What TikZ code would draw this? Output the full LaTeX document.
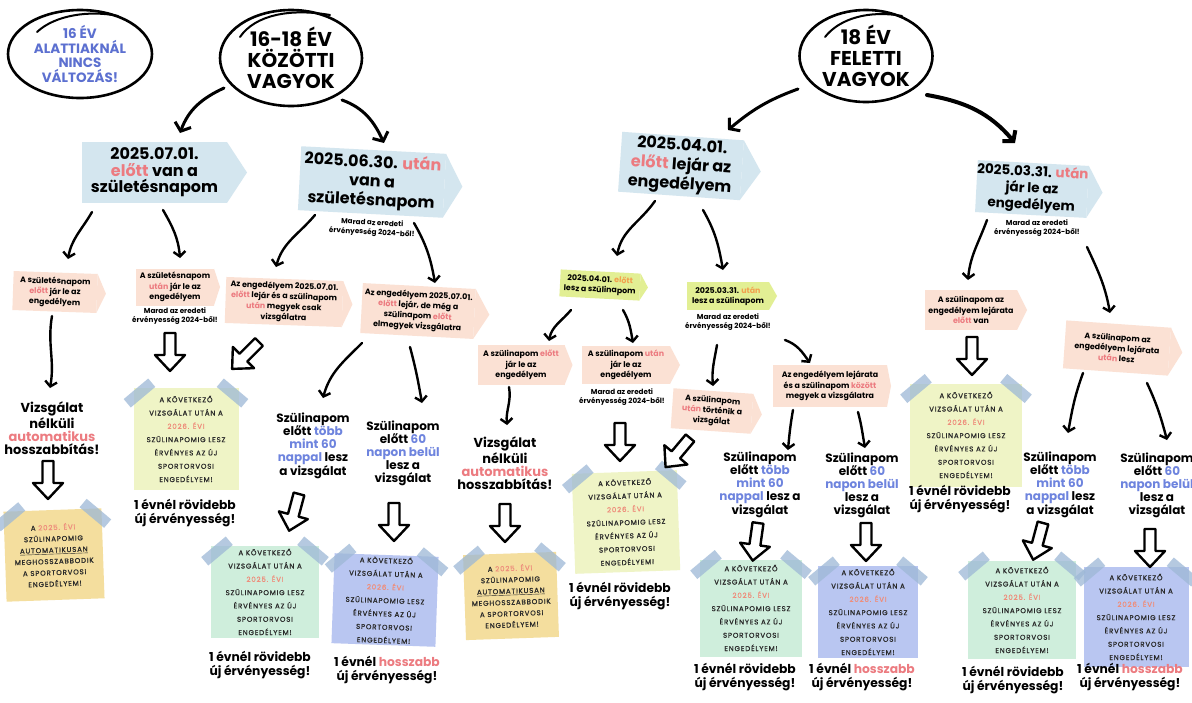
\documentclass[tikz,border=0pt]{standalone}
\usepackage{fontspec}
\setmainfont{Poppins}
\newfontfamily\stk[LetterSpace=12,FakeBold=1.2]{Poppins}
\usetikzlibrary{shapes.geometric,arrows.meta,calc}
\definecolor{boxblue}{HTML}{D4E6EF}
\definecolor{peach}{HTML}{FBE1D4}
\definecolor{lime}{HTML}{E2EF94}
\definecolor{stickyyg}{HTML}{EFF4C6}
\definecolor{stickyy}{HTML}{F4DE9E}
\definecolor{stickyg}{HTML}{CFEEDC}
\definecolor{stickyb}{HTML}{B9C6F1}
\definecolor{tapec}{HTML}{9DB8D6}
\definecolor{txtred}{HTML}{EC7B80}
\definecolor{txtblue}{HTML}{6E84DE}
\definecolor{txtorange}{HTML}{F2A14E}
\definecolor{txtyear}{HTML}{EE8E7C}
\definecolor{eblue}{HTML}{5C70D0}
\definecolor{stxt}{HTML}{2A2A2A}
\newcommand\hlr[1]{\textcolor{txtred}{#1}}
\newcommand\hlb[1]{\textcolor{txtblue}{#1}}
\newcommand\hlo[1]{\textcolor{txtorange}{#1}}
\newcommand\hly[1]{\textcolor{txtyear}{#1}}
\newcommand\kovtext[1]{A KÖVETKEZŐ\\VIZSGÁLAT UTÁN A\\\hly{#1. ÉVI}\\SZÜLINAPOMIG LESZ\\ÉRVÉNYES AZ ÚJ\\SPORTORVOSI\\ENGEDÉLYEM!}
\newcommand\autotext{A \hly{2025. ÉVI}\\SZÜLINAPOMIG\\\underline{AUTOMATIKUSAN}\\MEGHOSSZABBODIK\\A SPORTORVOSI\\ENGEDÉLYEM!}
\newcommand\mkptr[3]{\fill[#3] (#1.north east) -- ($(#1.east)!-#2pt!(#1.west)$) -- (#1.south east) -- cycle;}
\newcommand\tapes[1]{\node[tape, rotate=40] (#1tl) at ($(#1.north west)+(6,-5)$) {};\node[tape, rotate=-40] (#1tr) at ($(#1.north east)+(-6,-5)$) {};}
\begin{document}
\begin{tikzpicture}[x=1pt,y=1pt,
 every node/.style={inner sep=0pt, outer sep=0pt},
 ell/.style={align=center, font=\fontsize{20}{21}\selectfont\bfseries},
 ring/.style={line width=2.6pt, draw=black},
 bbox/.style={rectangle, fill=boxblue, align=center, font=\fontsize{16}{16.5}\selectfont\bfseries},
 pbox/.style={rectangle, fill=peach, align=center, font=\fontsize{7.9}{10.4}\selectfont\bfseries},
 gbox/.style={pbox, fill=lime},
 small/.style={align=center, font=\fontsize{7.2}{9.5}\selectfont\bfseries},
 stmt/.style={align=center, font=\fontsize{13}{13}\selectfont\bfseries},
 szul/.style={align=center, font=\fontsize{12}{13}\selectfont\bfseries},
 res/.style={align=center, font=\fontsize{12.3}{14}\selectfont\bfseries},
 sticky/.style={rectangle, align=center, text=stxt, font=\stk\fontsize{7}{13.3}\selectfont},
 asticky/.style={sticky, fill=stickyy, font=\stk\fontsize{7}{11.3}\selectfont},
 tape/.style={rectangle, fill=tapec, fill opacity=.75, minimum width=32pt, minimum height=11pt},
 carrow/.style={line width=2.4pt, line cap=round, -{Straight Barb[length=5pt,width=12pt]}},
 bigarrow/.style={line width=3pt, line cap=round, -{Straight Barb[length=7pt,width=17pt]}},
 hollow/.pic={\draw[line width=2.4pt, fill=white, line join=round] (-5.5,0) -- (-5.5,-22) -- (-15,-22) -- (0,-38) -- (15,-22) -- (5.5,-22) -- (5.5,0) -- cycle;}
]
\useasboundingbox (0,0) rectangle (1192,-702);
\fill[white] (0,0) rectangle (1192,-702);

% ellipses
\node[ell, text=eblue, font=\fontsize{13.5}{14.5}\selectfont\bfseries] (e1) at (80,-54) {16 ÉV\\ALATTIAKNÁL\\NINCS\\VÁLTOZÁS!};
\draw[ring] (e1.center) ellipse [x radius=72pt, y radius=44pt];
\draw[line width=2pt, line cap=round] ($(e1)+(-43,22)$) .. controls ($(e1)+(-25,39)$) and ($(e1)+(10,44)$) .. ($(e1)+(38,38)$);
\node[ell] (e2) at (291,-58) {16-18 ÉV\\KÖZÖTTI\\VAGYOK};
\draw[ring] (e2.center) ellipse [x radius=71pt, y radius=48pt];
\draw[line width=2pt, line cap=round] ($(e2)+(-51,21)$) .. controls ($(e2)+(-36,43)$) and ($(e2)+(-1,50)$) .. ($(e2)+(39,43)$);
\node[ell] (e3) at (866,-56) {18 ÉV\\FELETTI\\VAGYOK};
\draw[ring] (e3.center) ellipse [x radius=66.5pt, y radius=46pt];
\draw[line width=2pt, line cap=round] ($(e3)+(-41,19)$) .. controls ($(e3)+(-26,38)$) and ($(e3)+(4,46)$) .. ($(e3)+(36,40)$);

% blue boxes
\node[bbox, minimum width=145pt, minimum height=61pt] (A) at (154.5,-172.5) {2025.07.01.\\\hlr{előtt} van a\\születésnapom};
\mkptr{A}{20}{boxblue}
\node[bbox, minimum width=145pt, minimum height=64pt, rotate=-3, font=\fontsize{16}{19}\selectfont\bfseries] (B) at (372,-182) {2025.06.30. \hlr{után}\\van a\\születésnapom};
\mkptr{B}{18}{boxblue}
\node[bbox, minimum width=122pt, minimum height=60pt, rotate=-4, font=\fontsize{16}{19.5}\selectfont\bfseries] (C) at (681,-166) {2025.04.01.\\\hlr{előtt} lejár az\\engedélyem};
\mkptr{C}{19}{boxblue}
\node[bbox, minimum width=110pt, minimum height=52pt, rotate=-3, font=\fontsize{13.5}{16.5}\selectfont\bfseries] (D) at (1032,-189) {2025.03.31. \hlr{után}\\jár le az\\engedélyem};
\mkptr{D}{15}{boxblue}

% small notes
\node[small, rotate=-3] (m1) at (372,-228) {Marad az eredeti\\érvényesség 2024-ből!};
\node[small] (m2) at (175,-316) {Marad az eredeti\\érvényesség 2024-ből!};
\node[small] (m3) at (728,-322) {Marad az eredeti\\érvényesség 2024-ből!};
\node[small] (m4) at (622,-397) {Marad az eredeti\\érvényesség 2024-ből!};
\node[small] (m5) at (1037,-228) {Marad az eredeti\\érvényesség 2024-ből!};

% peach / green boxes
\node[pbox, minimum width=84pt, minimum height=39pt, rotate=-2] (E1) at (55,-292) {A születésnapom\\\hlr{előtt} jár le az\\engedélyem};
\mkptr{E1}{9}{peach}
\node[pbox, minimum width=78pt, minimum height=37pt] (E2) at (175,-287) {A születésnapom\\\hlr{után} jár le az\\engedélyem};
\mkptr{E2}{6}{peach}
\node[pbox, minimum width=117pt, minimum height=46pt, rotate=-2] (E3) at (284,-302) {Az engedélyem 2025.07.01.\\\hlr{előtt} lejár és a szülinapom\\\hlr{után} megyek csak\\vizsgálatra};
\mkptr{E3}{10}{peach}
\node[pbox, minimum width=113pt, minimum height=50pt, rotate=-3] (E4) at (418,-311) {Az engedélyem 2025.07.01.\\\hlr{előtt} lejár, de még a\\szülinapom \hlr{előtt}\\elmegyek vizsgálatra};
\mkptr{E4}{15}{peach}
\node[gbox, minimum width=80pt, minimum height=27pt, rotate=-3] (G1) at (600,-285) {2025.04.01. \hlo{előtt}\\lesz a szülinapom};
\mkptr{G1}{8}{lime}
\node[gbox, minimum width=82pt, minimum height=28pt] (G2) at (728,-296) {2025.03.31. \hlo{után}\\lesz a szülinapom};
\mkptr{G2}{8}{lime}
\node[pbox, minimum width=87pt, minimum height=40pt] (P1) at (521,-365) {A szülinapom \hlr{előtt}\\jár le az\\engedélyem};
\mkptr{P1}{8}{peach}
\node[pbox, minimum width=88pt, minimum height=38pt] (P2) at (626,-365) {A szülinapom \hlr{után}\\jár le az\\engedélyem};
\mkptr{P2}{10}{peach}
\node[pbox, minimum width=80pt, minimum height=40pt, rotate=-4] (P3) at (712,-411) {A szülinapom\\\hlr{után} történik a\\vizsgálat};
\mkptr{P3}{10}{peach}
\node[pbox, minimum width=114pt, minimum height=42pt] (P4) at (830,-386) {Az engedélyem lejárata\\és a szülinapom \hlr{között}\\megyek a vizsgálatra};
\mkptr{P4}{4}{peach}
\node[pbox, minimum width=92pt, minimum height=40pt] (P5) at (971,-310) {A szülinapom az\\engedélyem lejárata\\\hlr{előtt} van};
\mkptr{P5}{10}{peach}
\node[pbox, minimum width=105pt, minimum height=48pt, rotate=-4] (P6) at (1117,-348) {A szülinapom az\\engedélyem lejárata\\\hlr{után} lesz};
\mkptr{P6}{13}{peach}

% statements
\node[stmt] (V1) at (52,-428) {Vizsgálat\\nélküli\\\hlr{automatikus}\\hosszabbítás!};
\node[stmt] (V2) at (505,-463) {Vizsgálat\\nélküli\\\hlr{automatikus}\\hosszabbítás!};
\node[szul] (Sa) at (313,-446) {Szülinapom\\előtt \hlb{több}\\\hlb{mint 60}\\\hlb{nappal} lesz\\a vizsgálat};
\node[szul] (Sb) at (403,-453) {Szülinapom\\előtt \hlb{60}\\\hlb{napon belül}\\lesz a\\vizsgálat};
\node[szul] (Sc) at (760,-485) {Szülinapom\\előtt \hlb{több}\\\hlb{mint 60}\\\hlb{nappal} lesz a\\vizsgálat};
\node[szul] (Sd) at (862,-485) {Szülinapom\\előtt \hlb{60}\\\hlb{napon belül}\\lesz a\\vizsgálat};
\node[szul] (Se) at (1060,-485) {Szülinapom\\előtt \hlb{több}\\\hlb{mint 60}\\\hlb{nappal} lesz\\a vizsgálat};
\node[szul] (Sf) at (1157,-485) {Szülinapom\\előtt \hlb{60}\\\hlb{napon belül}\\lesz a\\vizsgálat};

% sticky notes
\node[sticky, fill=stickyyg, minimum width=105pt, minimum height=102pt] (N1) at (186,-439) {\kovtext{2026}};
\node[asticky, minimum width=98pt, minimum height=90pt, rotate=2] (N2) at (54,-555) {\autotext};
\node[sticky, fill=stickyg, minimum width=108pt, minimum height=92pt] (N3) at (265,-592) {\kovtext{2025}};
\node[sticky, fill=stickyb, minimum width=104pt, minimum height=90pt, rotate=-2] (N4) at (385,-600) {\kovtext{2026}};
\node[asticky, minimum width=93pt, minimum height=85pt, rotate=2] (N5) at (511,-596) {\autotext};
\node[sticky, fill=stickyyg, minimum width=105pt, minimum height=100pt, rotate=2] (N6) at (626,-522) {\kovtext{2026}};
\node[sticky, fill=stickyg, minimum width=102pt, minimum height=97pt] (N7) at (751,-608) {\kovtext{2025}};
\node[sticky, fill=stickyb, minimum width=100pt, minimum height=92pt] (N8) at (868,-612) {\kovtext{2026}};
\node[sticky, fill=stickyyg, minimum width=112pt, minimum height=103pt] (N9) at (966,-435) {\kovtext{2026}};
\node[sticky, fill=stickyg, minimum width=108pt, minimum height=98pt] (N10) at (1022,-610) {\kovtext{2025}};
\node[sticky, fill=stickyb, minimum width=105pt, minimum height=100pt] (N11) at (1136,-617) {\kovtext{2026}};
\tapes{N1}\tapes{N2}\tapes{N3}\tapes{N4}\tapes{N5}\tapes{N6}\tapes{N7}\tapes{N8}\tapes{N9}\tapes{N10}\tapes{N11}

% results
\node[res] (R1) at (185,-513) {1 évnél rövidebb\\új érvényesség!};
\node[res] (R2) at (260,-665) {1 évnél rövidebb\\új érvényesség!};
\node[res] (R3) at (387,-670) {1 évnél \hlr{hosszabb}\\új érvényesség!};
\node[res] (R4) at (620,-596) {1 évnél rövidebb\\új érvényesség!};
\node[res] (R5) at (745,-677) {1 évnél rövidebb\\új érvényesség!};
\node[res] (R6) at (862,-677) {1 évnél \hlr{hosszabb}\\új érvényesség!};
\node[res] (R7) at (960,-499) {1 évnél rövidebb\\új érvényesség!};
\node[res] (R8) at (1013,-680) {1 évnél rövidebb\\új érvényesség!};
\node[res] (R9) at (1130,-677) {1 évnél \hlr{hosszabb}\\új érvényesség!};

% big arrows
\draw[bigarrow] ($(e2)+(-67,-30)$) to[out=205,in=70] ($(A)+(25.5,39.5)$);
\draw[bigarrow] ($(e2)+(51,-42)$) to[out=-20,in=115] ($(B)+(12,39)$);
\draw[bigarrow] ($(e3)+(-68,-33)$) to[out=200,in=40] ($(C)+(47,36)$);
\draw[bigarrow, line width=4pt] ($(e3)+(61,-39)$) to[out=-10,in=130] ($(D)+(-17,46)$);

% curved arrows
\draw[carrow] ($(A)+(-62.5,-39.5)$) to[out=240,in=80] ($(E1)+(13,33)$);
\draw[carrow] ($(A)+(8.5,-37.5)$) to[out=-60,in=95] ($(E2)+(5,29)$);
\draw[carrow] ($(B)+(-57,-33)$) to[out=230,in=75] ($(E3)+(-8,35)$);
\draw[carrow] ($(B)+(42,-41)$) to[out=-60,in=100] ($(E4)+(17,28)$);
\draw[carrow] ($(C)+(-26,-35)$) to[out=235,in=80] ($(G1)+(17,29)$);
\draw[carrow] ($(C)+(22,-44)$) to[out=-60,in=100] ($(G2)+(-5,26)$);
\draw[carrow] ($(D)+(-45,-31)$) to[out=250,in=85] ($(P5)+(-3,30)$);
\draw[carrow] ($(D)+(55,-58)$) to[out=-65,in=100] ($(P6)+(-7,35)$);
\draw[carrow] ($(G1)+(-29,-25)$) to[out=230,in=80] ($(P1)+(28,24)$);
\draw[carrow] ($(G1)+(23,-25)$) to[out=-60,in=100] ($(P2)+(7,22)$);
\draw[carrow] ($(G2)+(-11,-49)$) to[out=-100,in=95] ($(P3)+(1,25)$);
\draw[carrow] ($(G2)+(57,-44)$) to[out=-20,in=125] ($(P4)+(-20,23)$);
\draw[carrow] ($(P1)+(-12,-22)$) to[out=-80,in=95] ($(V2)+(2,38)$);
\draw[carrow] ($(E1)+(-3,-24)$) to[out=-100,in=80] ($(V1)+(-2,40)$);
\draw[carrow] ($(E4)+(-56,-32)$) to[out=225,in=75] ($(Sa)+(10,48)$);
\draw[carrow] ($(E4)+(-8,-36)$) to[out=-75,in=100] ($(Sb)+(19,50)$);
\draw[carrow] ($(P4)+(-37,-24)$) to[out=-100,in=85] ($(Sc)+(28,35)$);
\draw[carrow] ($(P4)+(28,-26)$) to[out=-75,in=100] ($(Sd)+(3,37)$);
\draw[carrow] ($(P6)+(-34,-25)$) to[out=-110,in=80] ($(Se)+(8,52)$);
\draw[carrow] ($(P6)+(30,-35)$) to[out=-65,in=105] ($(Sf)+(10,45)$);

% hollow block arrows
\pic at (170,-333) {hollow};
\pic[rotate=-45] at (259,-342) {hollow};
\pic at (48,-461) {hollow};
\pic[rotate=-15] at (299,-494) {hollow};
\pic at (394,-503) {hollow};
\pic at (505,-504) {hollow};
\pic at (620,-423) {hollow};
\pic[rotate=-40] at (690,-438) {hollow};
\pic[rotate=-8] at (758,-523) {hollow};
\pic at (866,-523) {hollow};
\pic at (972,-337) {hollow};
\pic[rotate=-15] at (1043,-523) {hollow};
\pic at (1150,-529) {hollow};
\end{tikzpicture}
\end{document}
